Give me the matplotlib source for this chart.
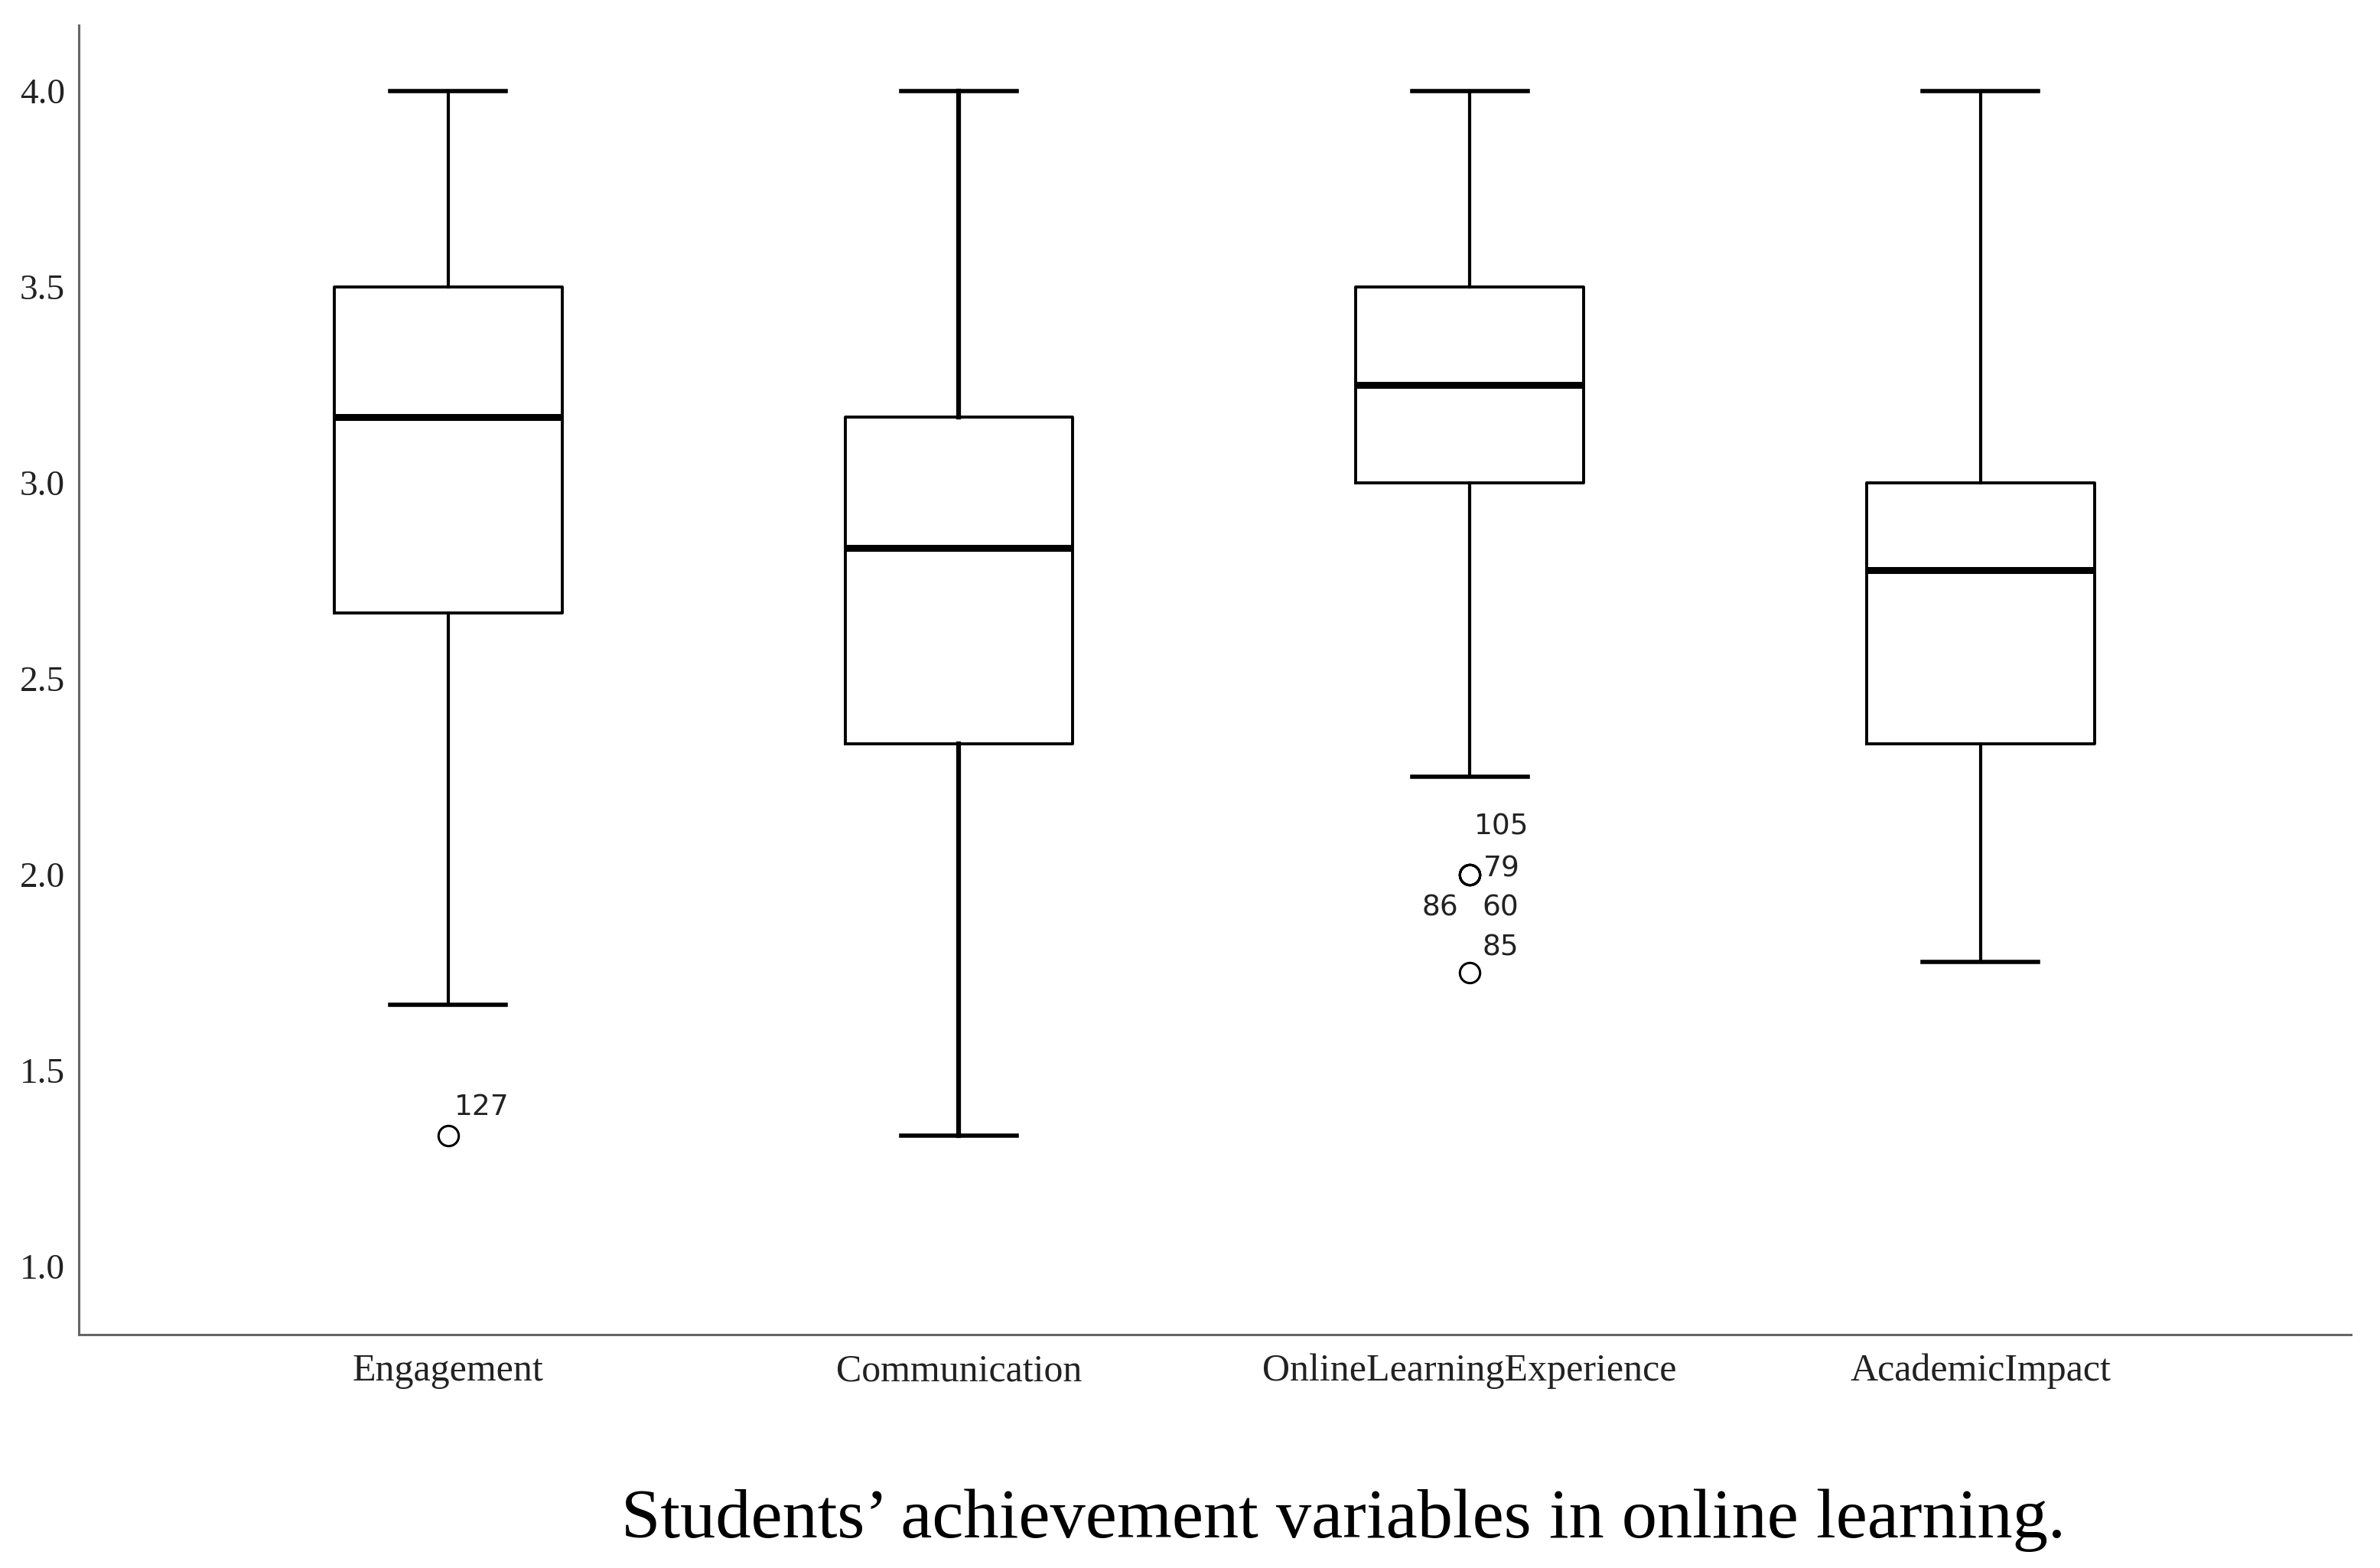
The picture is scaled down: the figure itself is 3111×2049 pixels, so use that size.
import numpy as np
import matplotlib.pyplot as plt

categories = ["Engagement", "Communication", "OnlineLearningExperience", "AcademicImpact"]
whisker_low = [1.667, 1.333, 2.25, 1.778]
q1 = [2.667, 2.333, 3.0, 2.333]
median = [3.167, 2.833, 3.25, 2.778]
q3 = [3.5, 3.167, 3.5, 3.0]
whisker_high = [4.0, 4.0, 4.0, 4.0]
outlier_values = [[1.333], [], [2.0, 2.0, 2.0, 2.0, 1.75], []]
outlier_ids = [[127], [], [105, 79, 86, 60, 85], []]
y_ticks = [1.0, 1.5, 2.0, 2.5, 3.0, 3.5, 4.0]
caption = "Students\u2019 achievement variables in online learning."

# where each case number sits relative to its point (pixels), SPSS style
label_offsets = {
    127: (8, 37, "left"),
    105: (6, 62, "left"),
    79: (18, 7, "left"),
    86: (-15, -44, "right"),
    60: (16, -44, "left"),
    85: (16, 32, "left"),
}

serif = ["Liberation Serif", "DejaVu Serif"]

fig = plt.figure(figsize=(31.11, 20.49), dpi=100)
ax = fig.add_axes([0.0331, 0.1489, 0.9547, 0.835])

positions = np.arange(1, len(categories) + 1)
stats = []
for i, name in enumerate(categories):
    stats.append(dict(label=name, whislo=whisker_low[i], q1=q1[i], med=median[i],
                      q3=q3[i], whishi=whisker_high[i], fliers=outlier_values[i]))

parts = ax.bxp(
    stats,
    positions=positions,
    widths=0.446,
    capwidths=0.226,
    boxprops=dict(color="black", linewidth=2.8),
    whiskerprops=dict(color="black", linewidth=3.0),
    capprops=dict(color="black", linewidth=4.0),
    medianprops=dict(color="black", linewidth=6.5, solid_capstyle="butt"),
    flierprops=dict(marker="o", markerfacecolor="none", markeredgecolor="black",
                    markersize=19, markeredgewidth=2.2, linestyle="none"),
)
# Communication whiskers are drawn heavier in the original
for w in parts["whiskers"][2:4]:
    w.set_linewidth(4.5)

for i, ids in enumerate(outlier_ids):
    for case, val in zip(ids, outlier_values[i]):
        dx, dy, ha = label_offsets[case]
        ax.annotate(str(case), (positions[i], val), xytext=(dx, dy),
                    textcoords="offset pixels", ha=ha, va="center",
                    fontsize=27, family="DejaVu Sans", color="#222222")

ax.set_xlim(0.277, 4.725)
ax.set_ylim(0.826, 4.168)
ax.set_yticks(y_ticks)
ax.set_yticklabels([f"{t:.1f}" for t in y_ticks], family=serif, fontsize=34)
ax.set_xticks(positions)
ax.set_xticklabels(categories, family=serif, fontsize=36)
ax.tick_params(axis="both", length=0, colors="#222222")
ax.tick_params(axis="y", pad=13)
ax.tick_params(axis="x", pad=18)

for side in ["top", "right"]:
    ax.spines[side].set_visible(False)
for side in ["left", "bottom"]:
    ax.spines[side].set_color("#666666")
    ax.spines[side].set_linewidth(2.2)

fig.text(0.5645, 0.0305, caption, ha="center", va="center", family=serif, fontsize=66.5)

fig.savefig("out.png", dpi=100)
